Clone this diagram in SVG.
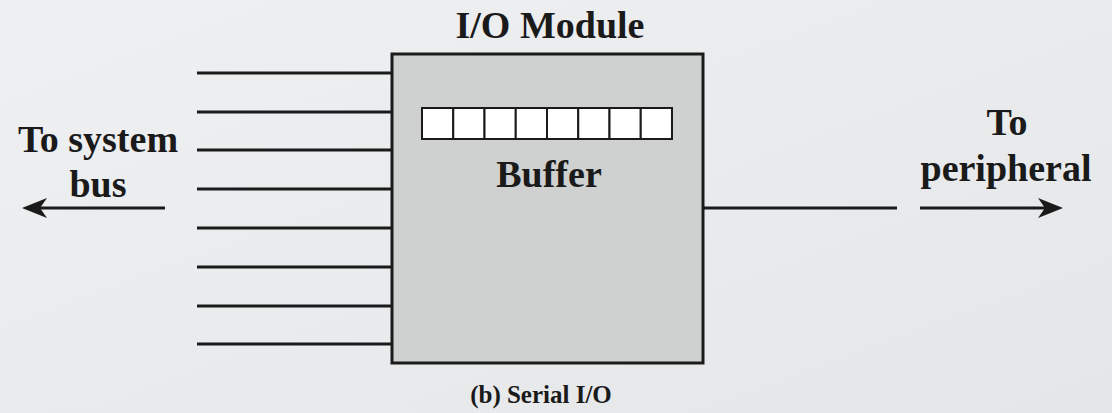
<svg xmlns="http://www.w3.org/2000/svg" width="1112" height="413" viewBox="0 0 1112 413">
<defs>
<linearGradient id="bg" x1="0" y1="0" x2="1" y2="1">
<stop offset="0" stop-color="#eef0f1"/>
<stop offset="1" stop-color="#e4e6e8"/>
</linearGradient>
<style>
.t{font-family:"Liberation Serif","Times New Roman",serif;font-weight:bold;fill:#1a1a1a;text-anchor:middle}
.ln{stroke:#1a1a1a;stroke-width:3;fill:none}
.head{fill:#1a1a1a}
.cell{fill:#ffffff;stroke:#1a1a1a;stroke-width:2}
</style>
</defs>
<rect width="1112" height="413" fill="url(#bg)"/>
<g id="connectors">
<line class="ln" x1="197" y1="73" x2="392" y2="73"/>
<line class="ln" x1="197" y1="112" x2="392" y2="112"/>
<line class="ln" x1="197" y1="150" x2="392" y2="150"/>
<line class="ln" x1="197" y1="189" x2="392" y2="189"/>
<line class="ln" x1="197" y1="228" x2="392" y2="228"/>
<line class="ln" x1="197" y1="267" x2="392" y2="267"/>
<line class="ln" x1="197" y1="306" x2="392" y2="306"/>
<line class="ln" x1="197" y1="344" x2="392" y2="344"/>
<line class="ln" x1="704" y1="208" x2="897" y2="208"/>
<line class="ln" x1="165" y1="208" x2="40" y2="208"/>
<path class="head" d="M22,208 L47,198 L40,208 L47,218 Z"/>
<line class="ln" x1="920" y1="208" x2="1045" y2="208"/>
<path class="head" d="M1063,208 L1038,198 L1045,208 L1038,218 Z"/>
</g>
<g id="io-module">
<rect x="392" y="54" width="311" height="309" fill="#cfd1d1" stroke="#1a1a1a" stroke-width="3"/>
<text class="t" x="550" y="38" font-size="38">I/O Module</text>
</g>
<g id="buffer">
<rect class="cell" x="422" y="108" width="31.25" height="31"/>
<rect class="cell" x="453.25" y="108" width="31.25" height="31"/>
<rect class="cell" x="484.5" y="108" width="31.25" height="31"/>
<rect class="cell" x="515.75" y="108" width="31.25" height="31"/>
<rect class="cell" x="547" y="108" width="31.25" height="31"/>
<rect class="cell" x="578.25" y="108" width="31.25" height="31"/>
<rect class="cell" x="609.5" y="108" width="31.25" height="31"/>
<rect class="cell" x="640.75" y="108" width="31.25" height="31"/>
<text class="t" x="549" y="187" font-size="38">Buffer</text>
</g>
<g id="system-bus-label">
<text class="t" x="98" y="152" font-size="38">To system</text>
<text class="t" x="98" y="197" font-size="38">bus</text>
</g>
<g id="peripheral-label">
<text class="t" x="1007" y="135" font-size="38">To</text>
<text class="t" x="1006" y="181" font-size="38">peripheral</text>
</g>
<text class="t" x="541" y="403" font-size="25">(b) Serial I/O</text>
</svg>
